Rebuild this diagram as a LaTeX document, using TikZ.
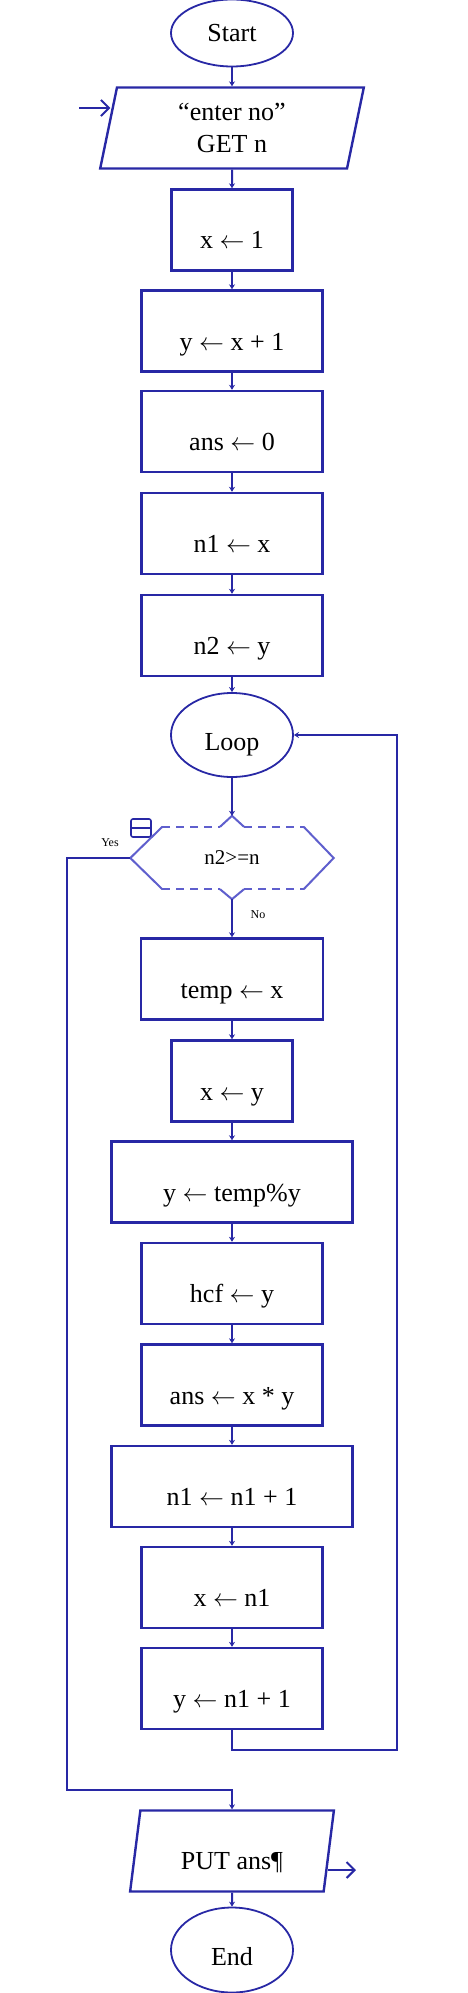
\documentclass[tikz,border=0pt]{standalone}
\usepackage{fontspec}
\setmainfont{Liberation Serif}
\usetikzlibrary{arrows.meta, shapes.geometric, calc}
\definecolor{rapblue}{RGB}{40,40,165}
\definecolor{raplight}{RGB}{95,95,205}

\begin{document}
\begin{tikzpicture}[
    x=1pt, y=-1pt,
    >={Stealth[length=5pt,width=6pt]},
    every node/.style={font=\fontsize{26}{32}\selectfont},
    proc/.style={draw=rapblue, line width=2.4pt, rectangle, minimum height=81pt, text height=38pt, text depth=0pt, inner sep=0pt},
    term/.style={draw=rapblue, line width=1.8pt, ellipse, minimum width=122pt, inner sep=0pt},
    io/.style={draw=rapblue, line width=2.4pt, trapezium, trapezium left angle=81, trapezium right angle=99, trapezium stretches=true, minimum height=81pt, inner sep=0pt},
    conn/.style={draw=rapblue, line width=2pt},
    hexside/.style={draw=raplight, line width=2pt},
    hexdash/.style={draw=raplight, line width=2pt, dash pattern=on 8pt off 6pt},
]
\useasboundingbox (0,0) rectangle (467,1993);
% Nodes
\node[term, minimum height=67pt] (start) at (232,33) {Start};
\node[io, minimum width=264pt, align=center] (get) at (232,128) {``enter no''\\GET n};
\node[proc, minimum width=121pt] (xone) at (232,230) {x $\leftarrow$ 1};
\node[proc, minimum width=181pt] (yinit) at (232,331) {y $\leftarrow$ x + 1};
\node[proc, minimum width=181pt] (anszero) at (232,431.5) {ans $\leftarrow$ 0};
\node[proc, minimum width=181pt] (nonex) at (232,533.5) {n1 $\leftarrow$ x};
\node[proc, minimum width=181pt] (ntwoy) at (232,635.5) {n2 $\leftarrow$ y};
\node[term, minimum height=84pt, text height=30pt, text depth=0pt] (loop) at (232,735) {Loop};
\node[minimum width=203pt, minimum height=62pt, inner sep=0pt, font=\fontsize{21}{24}\selectfont] (test) at (232,858) {n2>=n};
\coordinate (tin) at ($(test.north)+(0,-11)$);
\coordinate (tout) at ($(test.south)+(0,10)$);
\node[draw=rapblue, line width=1.6pt, rounded corners=2pt, minimum width=20pt, minimum height=18pt, inner sep=0pt] (fold) at (141,828) {};
\node[font=\fontsize{12}{14}\selectfont] (yes) at (110,843) {Yes};
\node[font=\fontsize{12}{14}\selectfont] (no) at (258,915) {No};
\node[proc, minimum width=182pt] (temp) at (232,979) {temp $\leftarrow$ x};
\node[proc, minimum width=121pt] (xy) at (232,1081) {x $\leftarrow$ y};
\node[proc, minimum width=241pt] (ymod) at (232,1182) {y $\leftarrow$ temp\%y};
\node[proc, minimum width=181pt] (hcf) at (232,1283.5) {hcf $\leftarrow$ y};
\node[proc, minimum width=181pt] (ansxy) at (232,1385) {ans $\leftarrow$ x * y};
\node[proc, minimum width=241pt] (ninc) at (232,1486.5) {n1 $\leftarrow$ n1 + 1};
\node[proc, minimum width=181pt] (xn) at (232,1587.5) {x $\leftarrow$ n1};
\node[proc, minimum width=181pt] (yn) at (232,1688.5) {y $\leftarrow$ n1 + 1};
\node[io, minimum width=204pt, text height=36pt, text depth=0pt] (put) at (232,1851) {PUT ans\P};
\node[term, minimum height=85pt, text height=30pt, text depth=0pt] (end) at (232,1950) {End};
\coordinate (inL) at (79,108);
\coordinate (outR) at (356,1870);
\coordinate (ret) at (397,735);
\coordinate (yesB) at (67,1790);
% Decision outline
\draw[hexside] ($(test.north west)+(32,0)$) -- (test.west) -- ($(test.south west)+(32,0)$);
\draw[hexside] ($(test.north east)+(-30,0)$) -- (test.east) -- ($(test.south east)+(-30,0)$);
\draw[hexside] ($(test.north)+(-12,0)$) -- (tin) -- ($(test.north)+(12,0)$);
\draw[hexside] ($(test.south)+(-12,0)$) -- (tout) -- ($(test.south)+(12,0)$);
\draw[hexdash] ($(test.north west)+(32,0)$) -- ($(test.north)+(-12,0)$);
\draw[hexdash] ($(test.north)+(12,0)$) -- ($(test.north east)+(-30,0)$);
\draw[hexdash] ($(test.south west)+(32,0)$) -- ($(test.south)+(-12,0)$);
\draw[hexdash] ($(test.south)+(12,0)$) -- ($(test.south east)+(-30,0)$);
\draw[draw=rapblue, line width=1.6pt] (fold.west) -- (fold.east);
% Arrows
\draw[conn, -{Straight Barb[length=8pt,width=16pt]}] (inL) -- ($(inL -| get.west)+(3,0)$);
\draw[conn, ->] (start) -- (get);
\draw[conn, ->] (get) -- (xone);
\draw[conn, ->] (xone) -- (yinit);
\draw[conn, ->] (yinit) -- (anszero);
\draw[conn, ->] (anszero) -- (nonex);
\draw[conn, ->] (nonex) -- (ntwoy);
\draw[conn, ->] (ntwoy) -- (loop);
\draw[conn, ->] (loop) -- (tin);
\draw[conn, ->] (tout) -- (temp);
\draw[conn, ->] (temp) -- (xy);
\draw[conn, ->] (xy) -- (ymod);
\draw[conn, ->] (ymod) -- (hcf);
\draw[conn, ->] (hcf) -- (ansxy);
\draw[conn, ->] (ansxy) -- (ninc);
\draw[conn, ->] (ninc) -- (xn);
\draw[conn, ->] (xn) -- (yn);
\draw[conn, ->] (yn.south) -- ++(0,20) -| (ret) -- (loop.east);
\draw[conn, ->] (test.west) -| (yesB) -| (put.north);
\draw[conn, ->] (put) -- (end);
\draw[conn, -{Straight Barb[length=8pt,width=16pt]}] ($(outR -| put.east)+(-2,0)$) -- (outR);
\end{tikzpicture}
\end{document}
